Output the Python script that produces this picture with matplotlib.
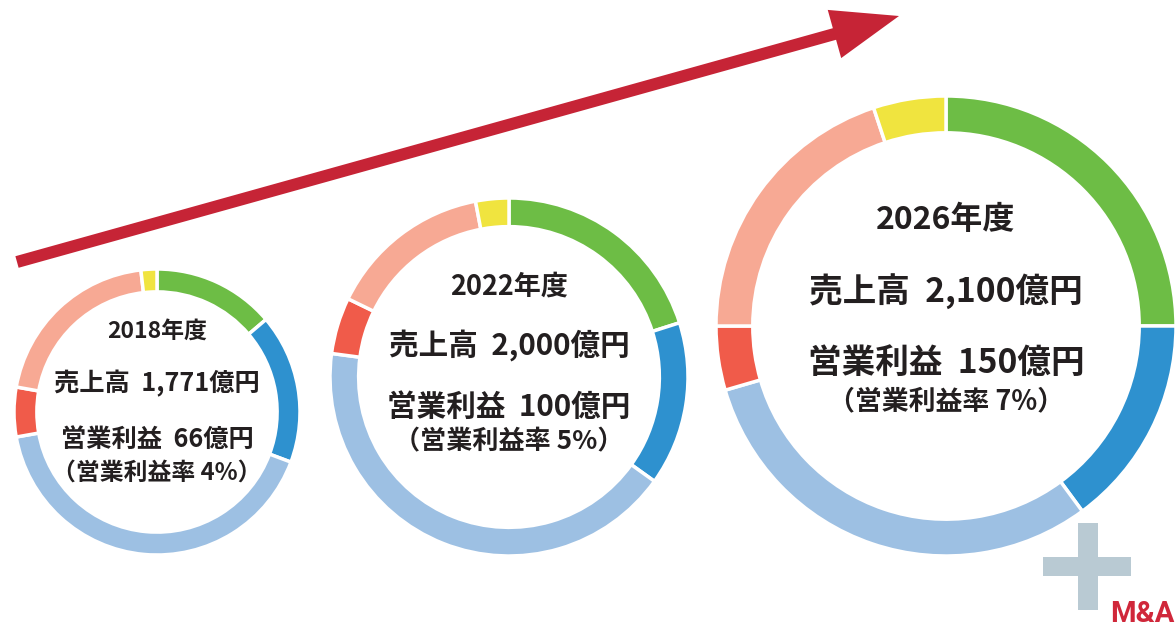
import matplotlib.pyplot as plt
from matplotlib.patches import FancyArrow, Rectangle

# ----------------------------
# Data
# ----------------------------
years = ["2018年度", "2022年度", "2026年度"]
sales = ["1,771", "2,000", "2,100"]          # 億円
op_profit = ["66", "100", "150"]            # 億円
op_margin = ["4%", "5%", "7%"]

# segment shares (%), clockwise from 12 o'clock
shares_2018 = [13.8, 16.9, 41.5, 5.6, 20.4, 1.8]
shares_2022 = [20.1, 14.8, 42.2, 5.1, 14.8, 3.0]
shares_2026 = [25.0, 14.9, 30.6, 4.5, 19.9, 5.1]
all_shares = [shares_2018, shares_2022, shares_2026]

seg_colors = ["#6dbd45", "#2e91cf", "#9dc0e3", "#f05b4a", "#f7a994", "#f0e43f"]

# ----------------------------
# Layout (pixel units, y measured from top)
# ----------------------------
W, H = 1176, 626
centers = [(157, 412), (509, 377), (946, 326)]
radii = [143, 179, 230]
ring = 0.16
year_size = [16.5, 19.5, 23]
main_size = [18.2, 21.3, 24.2]
sub_size = [17.2, 18.8, 19.4]
text_rows = [(331, 384, 439, 473), (287, 345, 407, 442), (220, 292, 363, 401)]

jp_font = ["Noto Sans CJK JP", "DejaVu Sans"]
ink = "#231f20"

fig = plt.figure(figsize=(W / 100, H / 100), dpi=100)
ax = fig.add_axes([0, 0, 1, 1])

# ----------------------------
# Donuts
# ----------------------------
for i in range(3):
    cx, cy = centers[i]
    r = radii[i]
    ax.pie(
        all_shares[i],
        colors=seg_colors,
        center=(cx, H - cy),
        radius=r,
        startangle=90,
        counterclock=False,
        wedgeprops=dict(width=r * ring, edgecolor="white", linewidth=2.5),
    )

    y_year, y_sales, y_op, y_margin = text_rows[i]
    ax.text(cx, H - y_year, years[i], ha="center", va="center",
            fontsize=year_size[i], fontweight="bold", family=jp_font, color=ink)
    ax.text(cx, H - y_sales, f"売上高  {sales[i]}億円", ha="center", va="center",
            fontsize=main_size[i], fontweight="bold", family=jp_font, color=ink)
    ax.text(cx, H - y_op, f"営業利益  {op_profit[i]}億円", ha="center", va="center",
            fontsize=main_size[i], fontweight="bold", family=jp_font, color=ink)
    ax.text(cx, H - y_margin, f"（営業利益率 {op_margin[i]}）", ha="center", va="center",
            fontsize=sub_size[i], fontweight="bold", family=jp_font, color=ink)

# ----------------------------
# Growth arrow
# ----------------------------
x0, y0 = 17, 262
x1, y1 = 899, 16
ax.add_patch(FancyArrow(x0, H - y0, x1 - x0, -(y1 - y0), width=12,
                        head_width=50, head_length=67,
                        length_includes_head=True, color="#c62436", lw=0))

# ----------------------------
# "+ M&A"
# ----------------------------
plus_color = "#b9cad3"
ax.add_patch(Rectangle((1078, H - 610), 20, 87, color=plus_color, lw=0))
ax.add_patch(Rectangle((1043, H - 576), 88, 19, color=plus_color, lw=0))
ax.text(1175, H - 622, "M&A", ha="right", va="baseline", fontsize=21,
        fontweight="bold", family=["Roboto", "DejaVu Sans"], color="#d0273a")

ax.set_xlim(0, W)
ax.set_ylim(0, H)
ax.set_aspect("equal")
ax.axis("off")

fig.savefig("out.png", dpi=100)
